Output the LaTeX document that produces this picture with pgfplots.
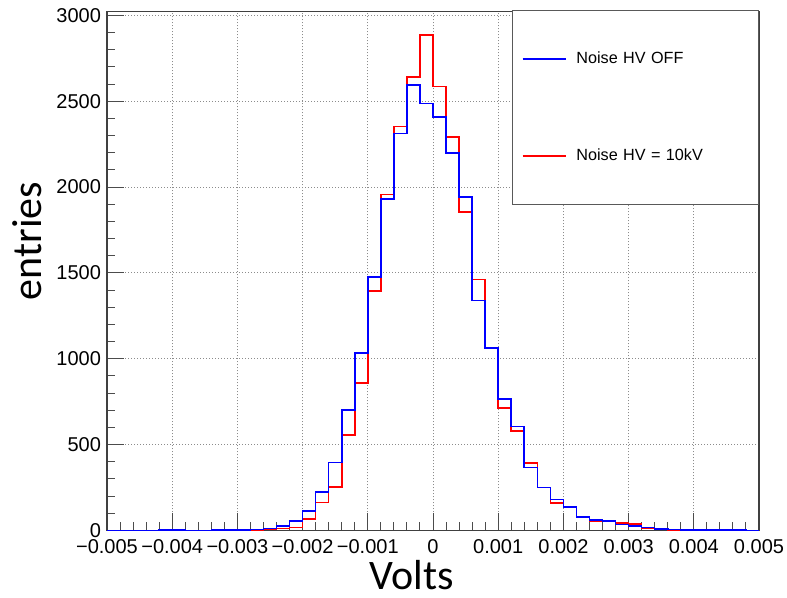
\documentclass[border=0pt]{standalone}
\usepackage{fontspec}
\setmainfont{Liberation Sans}
\newfontfamily\calibri{Carlito}
\usepackage{pgfplots}
\usepackage{pgfplotstable}
\pgfplotsset{compat=1.18}

\pgfplotstableread{
x hvoff hvten
-0.0050 0 0
-0.0048 0 0
-0.0046 0 0
-0.0044 0 0
-0.0042 1 0
-0.0040 1 0
-0.0038 0 0
-0.0036 0 0
-0.0034 1 0
-0.0032 1 0
-0.0030 2 1
-0.0028 6 3
-0.0026 12 6
-0.0024 24 10
-0.0022 55 16
-0.0020 114 65
-0.0018 222 162
-0.0016 396 253
-0.0014 702 555
-0.0012 1033 858
-0.0010 1477 1395
-0.0008 1932 1957
-0.0006 2313 2352
-0.0004 2595 2643
-0.0002 2486 2885
0.0000 2410 2585
0.0002 2200 2291
0.0004 1943 1854
0.0006 1340 1461
0.0008 1062 1062
0.0010 767 714
0.0012 605 580
0.0014 366 392
0.0016 251 249
0.0018 180 161
0.0020 137 137
0.0022 78 78
0.0024 59 53
0.0026 55 53
0.0028 35 43
0.0030 24 37
0.0032 16 10
0.0034 8 8
0.0036 5 3
0.0038 4 3
0.0040 4 2
0.0042 3 2
0.0044 3 2
0.0046 1 0
0.0048 0 0
0.0050 0 0
}\hist

\begin{document}
\begin{tikzpicture}
\path[use as bounding box] (0pt,0pt) rectangle (393.5pt,299pt);
\begin{axis}[
  at={(53.5pt,33.8pt)}, anchor=south west,
  scale only axis, width=326pt, height=259.35pt,
  xmin=-0.005, xmax=0.005, ymin=0, ymax=3022,
  xtick={-0.005,-0.004,-0.003,-0.002,-0.001,0,0.001,0.002,0.003,0.004,0.005},
  xticklabels={−0.005,−0.004,−0.003,−0.002,−0.001,0,0.001,0.002,0.003,0.004,0.005},
  ytick={0,500,1000,1500,2000,2500,3000},
  yticklabels={0,500,1000,1500,2000,2500,3000},
  scaled x ticks=false, scaled y ticks=false,
  minor x tick num=4, minor y tick num=4,
  xtick pos=bottom, ytick pos=left,
  tick align=inside,
  major tick length=8.5pt, minor tick length=4pt,
  tick style={black!70, line width=0.5pt},
  axis line style={black!75, line width=0.6pt},
  grid=major,
  major grid style={dash pattern=on 0.5pt off 1pt, black!45, line width=0.5pt},
  ticklabel style={font=\fontsize{10}{12}\selectfont},
  xticklabel style={yshift=-1pt},
  yticklabel style={xshift=0.5pt},
  xlabel={Volts},
  ylabel={entries},
  xlabel style={at={(rel axis cs:0.467,-0.1136)}, anchor=base, font=\calibri\fontsize{21}{24}\selectfont},
  ylabel style={at={(rel axis cs:-0.1002,0.558)}, anchor=base, font=\calibri\fontsize{21}{24}\selectfont},
  clip=false,
  reverse legend,
  legend style={at={(rel axis cs:1,1.004)}, anchor=north east,
    draw=black!65, line width=0.6pt, fill=white,
    inner xsep=4.5pt, inner ysep=0pt, row sep=0pt, column sep=5pt,
    font=\fontsize{8.1}{9.7}\selectfont,
    nodes={inner xsep=0pt, inner ysep=0pt, minimum height=48.5pt, text width=86.5pt, anchor=west}},
  legend cell align=left,
  legend image code/.code={\draw[#1] (0pt,0pt) -- (21.5pt,0pt);},
]
\addplot[const plot mark left, red, line width=0.8pt] table[x=x, y=hvten]{\hist};
\addlegendentry{Noise HV = 10kV}
\addplot[const plot mark left, blue, line width=0.8pt] table[x=x, y=hvoff]{\hist};
\addlegendentry{Noise HV OFF}
\end{axis}
\end{tikzpicture}
\end{document}
